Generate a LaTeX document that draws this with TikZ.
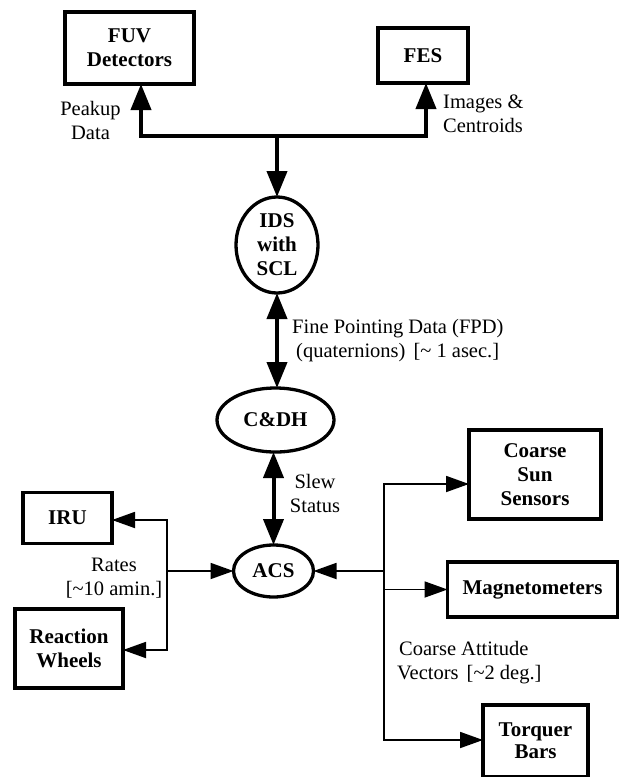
\documentclass[tikz,border=0pt]{standalone}
\usepackage{fontspec}
\setmainfont{Liberation Serif}
\usetikzlibrary{arrows.meta,shapes.geometric}
\begin{document}
\begin{tikzpicture}[x=1pt,y=-1pt,
  box/.style={draw,line width=3.4pt,rectangle,inner sep=0pt,outer sep=0pt,align=center,font=\fontsize{21}{24}\selectfont\bfseries},
  oval/.style={draw,line width=3.3pt,ellipse,inner sep=0pt,outer sep=0pt,align=center,font=\fontsize{21}{24}\selectfont\bfseries},
  lbl/.style={inner sep=0pt,font=\fontsize{20.5}{24}\selectfont},
  heavy/.style={line width=4pt,line join=miter},
  light/.style={line width=1.8pt,line join=miter},
  hto/.style={-{Triangle[length=26pt,width=20pt]}},
  hboth/.style={{Triangle[length=26pt,width=20pt]}-{Triangle[length=26pt,width=20pt]}},
  lto/.style={-{Triangle[length=23pt,width=16pt]}},
  lboth/.style={{Triangle[length=23pt,width=16pt]}-{Triangle[length=23pt,width=16pt]}}
]
\useasboundingbox (0,0) rectangle (619,777);

% nodes
\node[box,minimum width=129pt,minimum height=72pt] (fuv) at (129.5,48) {FUV\\Detectors};
\node[box,minimum width=90pt,minimum height=55pt] (fes) at (423,55.5) {FES};
\node[oval,minimum width=82pt,minimum height=96pt] (ids) at (277,245) {IDS\\with\\SCL};
\node[oval,minimum width=117pt,minimum height=64pt] (cdh) at (275.5,420) {C\&DH};
\node[oval,minimum width=80pt,minimum height=52pt] (acs) at (273.5,571) {ACS};
\node[box,minimum width=89pt,minimum height=51pt] (iru) at (67.5,518) {IRU};
\node[box,minimum width=108pt,minimum height=79pt] (rw) at (69,648.5) {Reaction\\Wheels};
\node[box,minimum width=132pt,minimum height=89pt] (css) at (535,474.5) {Coarse\\Sun\\Sensors};
\node[box,minimum width=170pt,minimum height=55pt] (mag) at (532.5,589.5) {Magnetometers};
\node[box,minimum width=105pt,minimum height=72pt] (tb) at (535.5,741) {\raisebox{-3pt}{\shortstack{Torquer\\[1pt]Bars}}};

% labels
\node[lbl,align=center] (lpk) at (90.5,120) {Peakup\\Data};
\node[lbl,align=left,anchor=west] (lim) at (443,113.5) {Images \&\\Centroids};
\node[lbl,align=left,anchor=west] (lfpd) at (292,340.5) {Fine Pointing Data (FPD)\\\hspace*{4pt}(quaternions)\hspace{8pt}[\textasciitilde{} 1 asec.]};
\node[lbl,align=center] (lslew) at (315,493.5) {Slew\\Status};
\node[lbl,align=center] (lrates) at (114,578.5) {Rates\\{}[\textasciitilde10 amin.]};
\node[lbl,align=left,anchor=west] (lcav) at (397,662.5) {\hspace*{2pt}Coarse Attitude\\Vectors\hspace{8pt}[\textasciitilde2 deg.]};

% top bus
\coordinate (bl) at (141,136);
\coordinate (br) at (426,136);
\coordinate (bm) at (277,136);
\draw[heavy,hboth] (bl |- fuv.south) -- (bl) -- (br) -- (br |- fes.south);
\draw[heavy,hto] (bm) -- (ids.north);
\draw[heavy,hboth] (ids.south) -- (ids.south |- cdh.north);
\draw[heavy,hboth] (acs.north |- cdh.south) -- (acs.north);

% left side
\coordinate (lj) at (167,571);
\coordinate (ltop) at (167,520);
\coordinate (lbot) at (167,650);
\draw[light,lboth] (ltop -| iru.east) -- (ltop) -- (lbot) -- (lbot -| rw.east);
\draw[light,lto] (lj) -- (acs.west);

% right side
\coordinate (rj) at (384,571);
\coordinate (rtop) at (384,484);
\coordinate (rbot) at (384,740);
\draw[light,lboth] (rtop -| css.west) -- (rtop) -- (rbot) -- (rbot -| tb.west);
\draw[light,lto] (rj) -- (acs.east);
\draw[light,lto] (rj |- mag.west) -- (mag.west);
\end{tikzpicture}
\end{document}
